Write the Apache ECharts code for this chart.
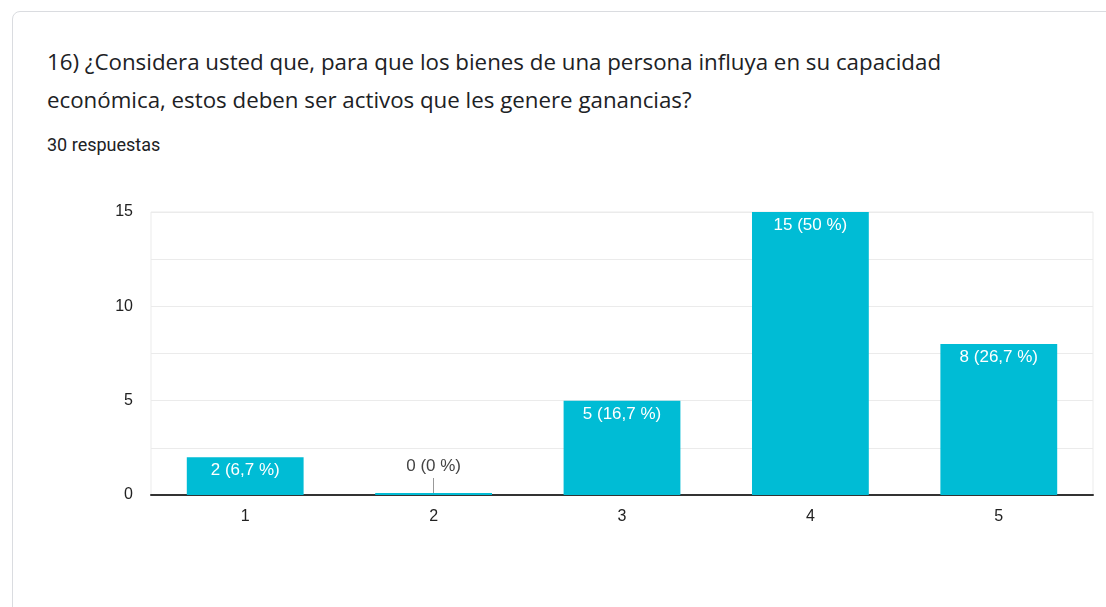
<!DOCTYPE html>
<html>
<head>
    <meta charset="utf-8">
    <title>Respuestas 16</title>
    <script src="https://cdn.jsdelivr.net/npm/echarts@6/dist/echarts.min.js"></script>
    <style>
        * {
            margin: 0;
            padding: 0
        }

        html, body {
            width: 100%;
            height: 100%;
            background: #fff;
            overflow: hidden;
        }

        .card {
            position: absolute;
            left: 12px;
            top: 11px;
            width: 1200px;
            height: 700px;
            border: 1px solid #dadce0;
            border-radius: 8px;
        }

        .titulo {
            position: absolute;
            left: 47px;
            top: 43px;
            font-family: "Open Sans", Roboto, Arial, sans-serif;
            font-size: 22.3px;
            line-height: 38px;
            color: #202124;
        }

        .sub {
            position: absolute;
            left: 47px;
            top: 134px;
            font-family: Roboto, Arial, sans-serif;
            font-size: 18px;
            color: #202124;
        }

        #grafico {
            position: absolute;
            left: 0;
            top: 0;
            width: 1106px;
            height: 607px;
        }
    </style>
</head>
<body>
<div class="card"></div>
<div class="titulo">16) ¿Considera usted que, para que los bienes de una persona influya en su capacidad<br>económica, estos deben ser activos que les genere ganancias?</div>
<div class="sub">30 respuestas</div>
<div id="grafico"></div>

<script type="text/javascript">
    // datos
    var categorias = ['1', '2', '3', '4', '5'];
    var respuestas = [2, 0, 5, 15, 8];
    var totalRespuestas = 30;

    function porcentaje(v) {
        var p = (v / totalRespuestas * 100).toFixed(1);
        if (p.slice(-2) === '.0') p = p.slice(0, -2);
        return p.replace('.', ',');
    }

    var datos = [];
    for (var i = 0; i < respuestas.length; i++) {
        var item = {value: respuestas[i]};
        if (respuestas[i] === 0) {
            // sin respuestas: la etiqueta va encima, en gris
            item.label = {position: 'top', color: '#444', distance: 18};
        }
        datos.push(item);
    }

    var fuente = '"Liberation Sans", Arial, sans-serif';

    var myChart = echarts.init(document.getElementById('grafico'));
    myChart.setOption({
        animation: false,
        grid: {
            left: 151,
            right: 13,
            top: 212,
            bottom: 112,
            show: true,
            borderColor: '#ebebeb',
            borderWidth: 1
        },
        xAxis: {
            type: 'category',
            data: categorias,
            axisLine: {lineStyle: {color: '#333', width: 2}},
            axisTick: {
                show: true,
                inside: true,
                alignWithLabel: true,
                length: 17,
                lineStyle: {color: '#999'}
            },
            axisLabel: {
                color: '#222',
                fontFamily: fuente,
                fontSize: 16,
                margin: 14
            }
        },
        yAxis: {
            type: 'value',
            min: 0,
            max: 15,
            interval: 2.5,
            axisLine: {show: false},
            axisTick: {show: false},
            splitLine: {lineStyle: {color: '#ebebeb'}},
            axisLabel: {
                color: '#222',
                fontFamily: fuente,
                fontSize: 16,
                margin: 18,
                formatter: function (v) {
                    return v % 5 === 0 ? v : '';
                }
            }
        },
        series: [{
            type: 'bar',
            data: datos,
            barWidth: '62%',
            barMinHeight: 2,
            itemStyle: {color: '#00bcd5'},
            label: {
                show: true,
                position: 'insideTop',
                distance: 5,
                color: '#fff',
                fontFamily: fuente,
                fontSize: 17,
                formatter: function (p) {
                    return p.value + ' (' + porcentaje(p.value) + ' %)';
                }
            }
        }]
    });
</script>
</body>
</html>
